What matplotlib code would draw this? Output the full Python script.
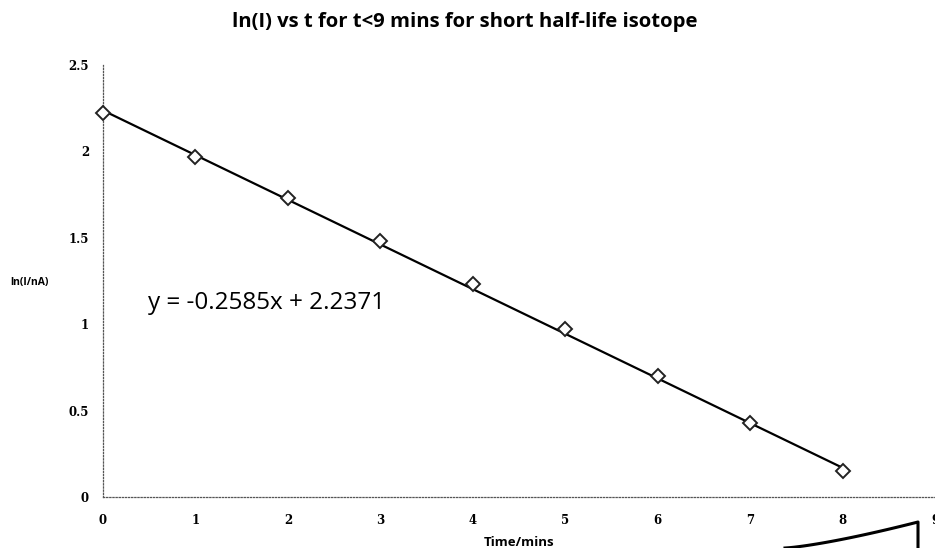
import matplotlib
matplotlib.use("Agg")
import matplotlib.pyplot as plt
import numpy as np

t_mins = [0, 1, 2, 3, 4, 5, 6, 7, 8]
ln_I = [2.22, 1.97, 1.73, 1.48, 1.23, 0.97, 0.70, 0.43, 0.15]
slope = -0.2585
intercept = 2.2371
x_ticks = [0, 1, 2, 3, 4, 5, 6, 7, 8, 9]
y_ticks = [0, 0.5, 1, 1.5, 2, 2.5]
y_tick_labels = ["0", "0.5", "1", "1.5", "2", "2.5"]

fig = plt.figure(figsize=(9.35, 5.48), dpi=100)
ax = fig.add_axes([103/935, 1-497/548, 1-103/935, (497-65)/548])
ax.set_xlim(0, 9)
ax.set_ylim(0, 2.5)

fit_x = np.array([t_mins[0], t_mins[-1]])
ax.plot(fit_x, slope*fit_x + intercept, color="black", lw=1.6, zorder=3, clip_on=False)
ax.plot(t_mins, ln_I, linestyle="none", marker="D", markersize=7,
        markerfacecolor="white", markeredgecolor="#222222", markeredgewidth=1.4,
        zorder=4, clip_on=False)

for s in ["top", "right"]:
    ax.spines[s].set_visible(False)
for s in ["left", "bottom"]:
    ax.spines[s].set_linestyle((0, (1, 1.5)))
    ax.spines[s].set_color("#555555")
    ax.spines[s].set_linewidth(0.9)

ax.set_xticks(x_ticks)
ax.set_xticklabels([str(v) for v in x_ticks], fontsize=8.5, fontweight="bold", family="DejaVu Serif")
ax.set_yticks(y_ticks)
ax.set_yticklabels(y_tick_labels, fontsize=8.5, fontweight="bold", family="DejaVu Serif")
ax.tick_params(length=0, pad=12)
ax.tick_params(axis="y", pad=10)

fig.text(519/935, 1-543/548, "Time/mins", fontsize=9.5, fontweight="bold", family="Open Sans",
         ha="center", va="center")
fig.text(10/935, 1-283/548, "ln(I/nA)", fontsize=7.5, fontweight="bold", family="Open Sans",
         ha="left", va="center")

fig.text(0.497, 1-22/548, "ln(I) vs t for t<9 mins for short half-life isotope",
         fontsize=14.6, fontweight="bold", family="Open Sans", ha="center", va="center")

ax.text(148/935, 1-303/548, "y = -0.2585x + 2.2371", fontsize=17.5, family="Open Sans",
        ha="left", va="center", transform=fig.transFigure)

# handwritten stroke at the bottom right of the scan
cx = np.linspace(785, 918, 30)
cy = 548 - 26*((cx-785)/133)**1.3
fig.add_artist(plt.Line2D(list(cx/935) + [918/935], list(1-cy/548) + [1-548/548],
                          color="black", lw=2.2))

fig.savefig("out.png", dpi=100)
